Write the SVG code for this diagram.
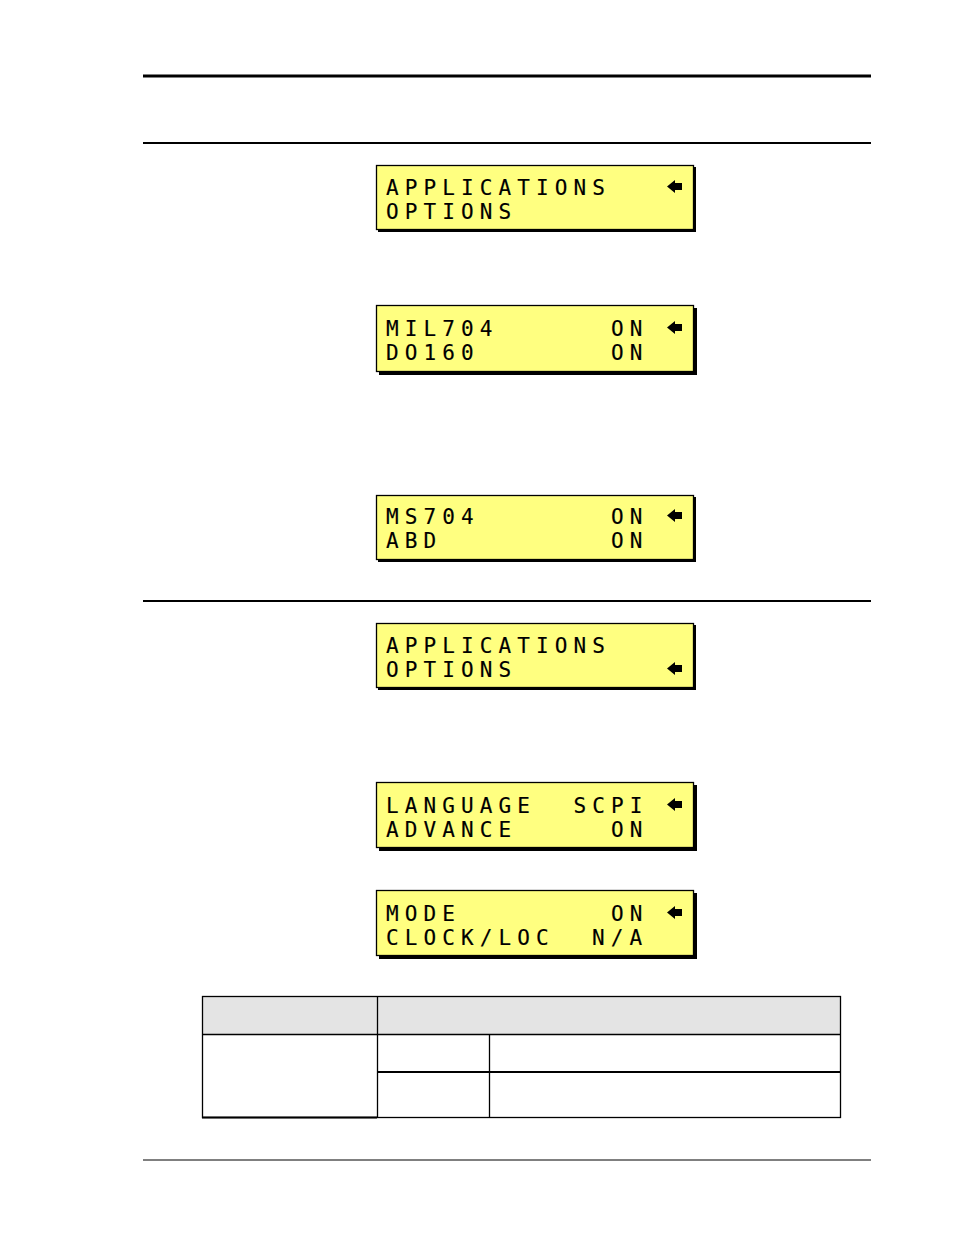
<svg xmlns="http://www.w3.org/2000/svg" width="954" height="1235" viewBox="0 0 954 1235">
<style>
.lcd{fill:#ffff80;stroke:#000;stroke-width:1.3}
.sh{fill:#000}
.t{font-family:"DejaVu Sans Mono","Liberation Mono",monospace;font-size:21px;letter-spacing:6.1px;fill:#000;stroke:#000;stroke-width:0.15}
.rule{stroke:#000}
.cell{stroke:#000;stroke-width:1.3;fill:none}
</style>
<defs>
<path id="arr" d="M0 6.5 L8 0 L8 3 L15 3 L15 10 L8 10 L8 13 Z" fill="#000"/>
</defs>
<rect width="954" height="1235" fill="#fff"/>
<g id="rules">
<line class="rule" x1="143" y1="76" x2="871" y2="76" stroke-width="3"/>
<line class="rule" x1="143" y1="143" x2="871" y2="143" stroke-width="2"/>
<line class="rule" x1="143" y1="601" x2="871" y2="601" stroke-width="2"/>
<line class="rule" x1="143" y1="1160" x2="871" y2="1160" stroke-width="1"/>
</g>
<g id="lcd1">
<rect class="sh" x="378" y="167" width="318" height="65"/>
<rect class="lcd" x="376.5" y="165.5" width="317" height="64"/>
<text class="t" x="386" y="195">APPLICATIONS</text>
<text class="t" x="386" y="218.5">OPTIONS</text>
<use href="#arr" x="667" y="180"/>
</g>
<g id="lcd2">
<rect class="sh" x="379" y="308" width="318" height="67"/>
<rect class="lcd" x="376.5" y="305.5" width="317" height="66"/>
<text class="t" x="386" y="336">MIL704</text>
<text class="t" x="611" y="336">ON</text>
<text class="t" x="386" y="359.5">DO160</text>
<text class="t" x="611" y="359.5">ON</text>
<use href="#arr" x="667" y="321"/>
</g>
<g id="lcd3">
<rect class="sh" x="378" y="497" width="318" height="65"/>
<rect class="lcd" x="376.5" y="495.5" width="317" height="64"/>
<text class="t" x="386" y="524">MS704</text>
<text class="t" x="611" y="524">ON</text>
<text class="t" x="386" y="547.5">ABD</text>
<text class="t" x="611" y="547.5">ON</text>
<use href="#arr" x="667" y="509"/>
</g>
<g id="lcd4">
<rect class="sh" x="378" y="625" width="318" height="65"/>
<rect class="lcd" x="376.5" y="623.5" width="317" height="64"/>
<text class="t" x="386" y="653">APPLICATIONS</text>
<text class="t" x="386" y="677">OPTIONS</text>
<use href="#arr" x="667" y="662"/>
</g>
<g id="lcd5">
<rect class="sh" x="379" y="785" width="318" height="66"/>
<rect class="lcd" x="376.5" y="782.5" width="317" height="65"/>
<text class="t" x="386" y="813">LANGUAGE</text>
<text class="t" x="573.5" y="813">SCPI</text>
<text class="t" x="386" y="837">ADVANCE</text>
<text class="t" x="611" y="837">ON</text>
<use href="#arr" x="667" y="798"/>
</g>
<g id="lcd6">
<rect class="sh" x="379" y="893" width="318" height="66"/>
<rect class="lcd" x="376.5" y="890.5" width="317" height="65"/>
<text class="t" x="386" y="921">MODE</text>
<text class="t" x="611" y="921">ON</text>
<text class="t" x="386" y="945">CLOCK/LOC</text>
<text class="t" x="592" y="945">N/A</text>
<use href="#arr" x="667" y="906"/>
</g>
<g id="table">
<rect x="202.5" y="996.5" width="638" height="38" fill="#e4e4e4"/>
<rect class="cell" x="202.5" y="996.5" width="638" height="121"/>
<line class="cell" x1="202" y1="1034.5" x2="841" y2="1034.5"/>
<line class="cell" x1="377.5" y1="996" x2="377.5" y2="1118"/>
<line class="cell" x1="489.5" y1="1034" x2="489.5" y2="1118"/>
<line stroke="#000" stroke-width="2.2" x1="377" y1="1072" x2="841" y2="1072"/>
<line stroke="#000" stroke-width="2.2" x1="202" y1="1117.5" x2="377" y2="1117.5"/>
</g>
</svg>
